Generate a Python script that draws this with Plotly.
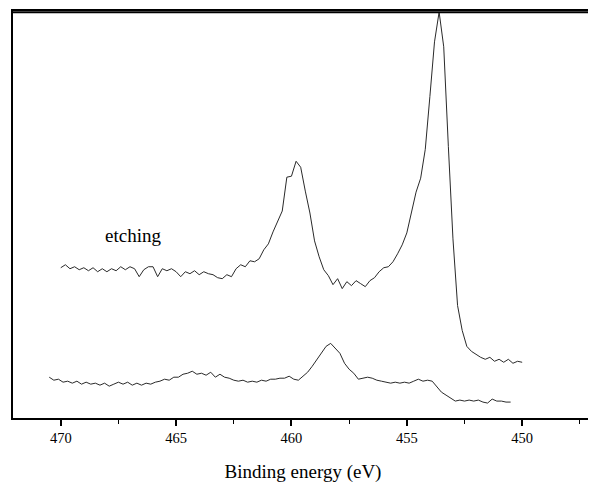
import plotly.graph_objects as go

# Binding energy (eV) for the upper (etched) spectrum
energy_etched = [
    470.0, 469.8, 469.6, 469.4, 469.2, 469.0, 468.8, 468.6, 468.4, 468.2,
    468.0, 467.8, 467.6, 467.4, 467.2, 467.0, 466.8, 466.6, 466.4, 466.2,
    466.0, 465.8, 465.6, 465.4, 465.2, 465.0, 464.8, 464.6, 464.4, 464.2,
    464.0, 463.8, 463.6, 463.4, 463.2, 463.0, 462.8, 462.6, 462.4, 462.2,
    462.0, 461.8, 461.6, 461.4, 461.2, 461.0, 460.8, 460.6, 460.4, 460.2,
    460.0, 459.8, 459.6, 459.4, 459.2, 459.0, 458.8, 458.6, 458.4, 458.2,
    458.0, 457.8, 457.6, 457.4, 457.2, 457.0, 456.8, 456.6, 456.4, 456.2,
    456.0, 455.8, 455.6, 455.4, 455.2, 455.0, 454.8, 454.6, 454.4, 454.2,
    454.0, 453.8, 453.6, 453.4, 453.2, 453.0, 452.8, 452.6, 452.4, 452.2,
    452.0, 451.8, 451.6, 451.4, 451.2, 451.0, 450.8, 450.6, 450.4, 450.2,
    450.0,
]
intensity_etched = [
    151, 154, 150, 152, 149, 151, 148, 151, 147, 150,
    147, 150, 148, 152, 149, 152, 150, 142, 149, 152,
    152, 142, 150, 148, 150, 147, 142, 147, 145, 148,
    144, 147, 145, 144, 141, 140, 144, 142, 150, 154,
    152, 158, 157, 160, 169, 175, 187, 197, 208, 242,
    243, 258, 252, 228, 206, 178, 162, 149, 143, 134,
    140, 130, 137, 133, 138, 135, 132, 138, 141, 147,
    151, 152, 157, 165, 174, 186, 207, 227, 241, 270,
    323, 378, 408, 373, 273, 180, 113, 88, 72, 67,
    64, 61, 59, 61, 57, 59, 56, 59, 55, 57,
    56,
]

# Binding energy (eV) for the lower (as-received) spectrum
energy_raw = [
    470.5, 470.3, 470.1, 469.9, 469.7, 469.5, 469.3, 469.1, 468.9, 468.7,
    468.5, 468.3, 468.1, 467.9, 467.7, 467.5, 467.3, 467.1, 466.9, 466.7,
    466.5, 466.3, 466.1, 465.9, 465.7, 465.5, 465.3, 465.1, 464.9, 464.7,
    464.5, 464.3, 464.1, 463.9, 463.7, 463.5, 463.3, 463.1, 462.9, 462.7,
    462.5, 462.3, 462.1, 461.9, 461.7, 461.5, 461.3, 461.1, 460.9, 460.7,
    460.5, 460.3, 460.1, 459.9, 459.7, 459.5, 459.3, 459.1, 458.9, 458.7,
    458.5, 458.3, 458.1, 457.9, 457.7, 457.5, 457.3, 457.1, 456.9, 456.7,
    456.5, 456.3, 456.1, 455.9, 455.7, 455.5, 455.3, 455.1, 454.9, 454.7,
    454.5, 454.3, 454.1, 453.9, 453.7, 453.5, 453.3, 453.1, 452.9, 452.7,
    452.5, 452.3, 452.1, 451.9, 451.7, 451.5, 451.3, 451.1, 450.9, 450.7,
    450.5,
]
intensity_raw = [
    41, 38, 39, 36, 37, 35, 37, 34, 36, 34,
    35, 33, 35, 32, 34, 36, 34, 36, 33, 35,
    33, 35, 34, 36, 37, 39, 38, 41, 41, 44,
    45, 47, 44, 45, 43, 46, 41, 44, 41, 40,
    38, 37, 38, 36, 37, 36, 38, 37, 39, 39,
    40, 40, 42, 39, 38, 42, 46, 52, 59, 65,
    72, 75, 70, 65, 55, 49, 45, 39, 40, 41,
    40, 38, 37, 36, 35, 36, 35, 36, 35, 37,
    39, 37, 38, 37, 32, 26, 23, 20, 17, 18,
    17, 18, 17, 18, 16, 15, 19, 17, 17, 16,
    16,
]

label_text = "etching"
label_energy = 466.87
label_intensity = 183

x_title = "Binding energy (eV)"
x_range = [472.07, 446.93]
y_range = [0, 409]
major_ticks = [470, 465, 460, 455, 450]

SERIF = "Liberation Serif"
LINE = "#2a2a2a"

fig = go.Figure()
fig.add_trace(go.Scatter(x=energy_etched, y=intensity_etched, mode="lines",
                         line=dict(color=LINE, width=1), showlegend=False,
                         hoverinfo="skip"))
fig.add_trace(go.Scatter(x=energy_raw, y=intensity_raw, mode="lines",
                         line=dict(color=LINE, width=1), showlegend=False,
                         hoverinfo="skip"))

fig.add_annotation(x=label_energy, y=label_intensity, text=label_text,
                   showarrow=False, xanchor="center", yanchor="middle",
                   font=dict(family=SERIF, size=19, color="black"))

# top and right frame edges, drawn just inside the plot area
fig.add_shape(type="line", xref="paper", yref="paper", x0=0, x1=1, y0=0.997, y1=0.997,
              line=dict(color="black", width=2), layer="above")
fig.add_shape(type="line", xref="paper", yref="paper", x0=0.9975, x1=0.9975, y0=0, y1=1,
              line=dict(color="#555555", width=1.5), layer="above")

# the page body adds an 8px offset, so the figure is sized to fit the window
fig.update_layout(
    width=588, height=475,
    margin=dict(l=5, r=1, t=1, b=65),
    paper_bgcolor="white", plot_bgcolor="white",
    showlegend=False,
)
fig.update_xaxes(
    range=x_range, tickmode="array", tickvals=major_ticks,
    ticks="outside", ticklen=6, tickwidth=1.5, tickcolor="black",
    ticklabelstandoff=0,
    minor=dict(dtick=2.5, ticks="outside", ticklen=4, tickwidth=1.2, tickcolor="black", showgrid=False),
    showline=True, linecolor="black", linewidth=1.5, mirror=True,
    showgrid=False, zeroline=False,
    tickfont=dict(family=SERIF, size=14.5, color="black"),
    title=dict(text=x_title, font=dict(family=SERIF, size=19, color="black"), standoff=21),
)
fig.update_yaxes(
    range=y_range, showticklabels=False, ticks="",
    showline=True, linecolor="black", linewidth=1.5, mirror=True,
    showgrid=False, zeroline=False,
)

fig.write_html("out.html", config={"displayModeBar": False})
